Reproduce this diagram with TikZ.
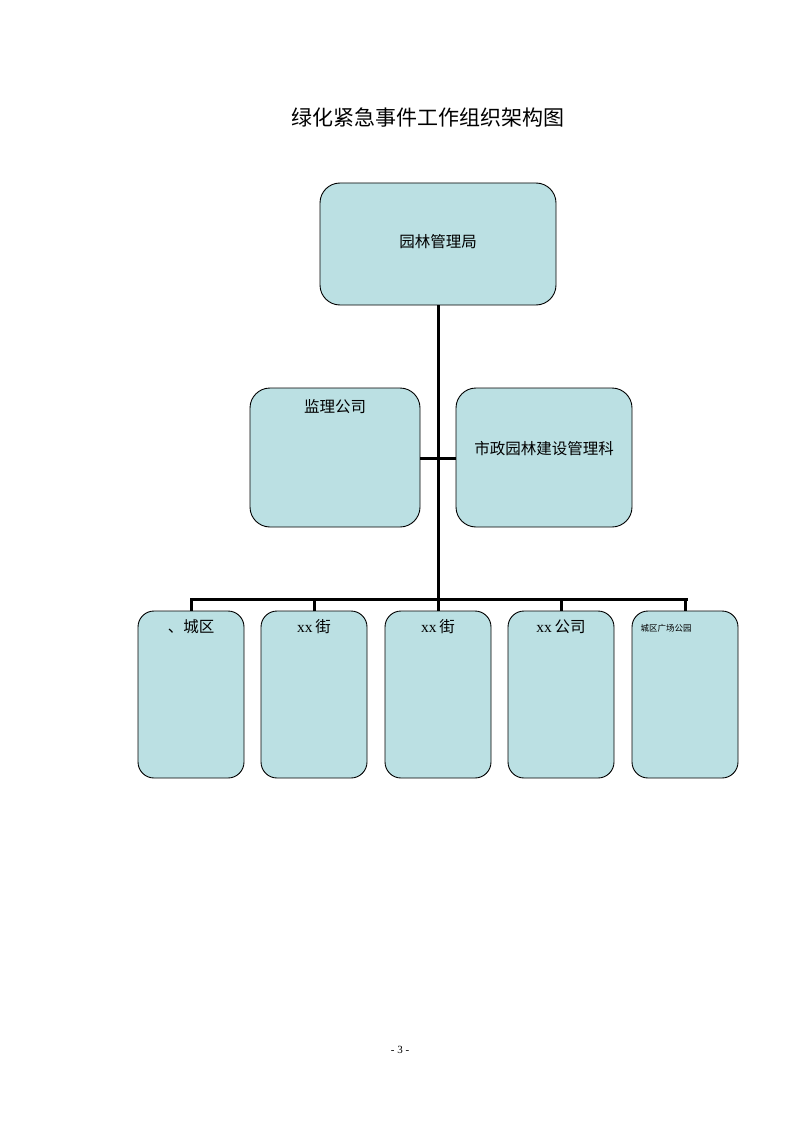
\documentclass[tikz,border=0pt]{standalone}
\usepackage{fontspec}
\setmainfont{Liberation Serif}
\newfontfamily\cjk{Noto Sans CJK SC}
\definecolor{boxfill}{HTML}{BBE0E3}
\tikzset{
  orgbox/.style={draw=black, line width=0.9pt, fill=boxfill, rounded corners=20pt, inner sep=0pt},
  smallbox/.style={orgbox, rounded corners=16pt, minimum width=106pt, minimum height=167pt},
  midbox/.style={orgbox, minimum width=172pt, minimum height=139pt},
  conn/.style={line width=3pt},
  boxtext/.style={font=\cjk\fontsize{15.5}{18}\selectfont, inner sep=0pt}
}
\begin{document}
\begin{tikzpicture}[x=1pt,y=-1pt]
\useasboundingbox (0,0) rectangle (794,1123);
% title
\node[font=\cjk\fontsize{21}{24}\selectfont] (title) at (428,118) {绿化紧急事件工作组织架构图};
% top box
\node[orgbox, minimum width=236pt, minimum height=122pt] (top) at (438,244) {};
\node[boxtext] (toptext) at (438,242) {园林管理局};
% middle boxes
\node[midbox, minimum width=170pt] (jl) at (335,457.5) {};
\node[boxtext] (jltext) at (335,407) {监理公司};
\node[midbox, minimum width=176pt] (sz) at (544,457.5) {};
\node[boxtext] (sztext) at (544,449) {市政园林建设管理科};
% bottom boxes
\node[smallbox] (b1) at (191,694.5) {};
\node[smallbox] (b2) at (314,694.5) {};
\node[smallbox] (b3) at (438,694.5) {};
\node[smallbox] (b4) at (561,694.5) {};
\node[smallbox] (b5) at (685,694.5) {};
\node[boxtext] (t1) at (191,627) {、城区};
\node[boxtext] (t2) at (314,627) {\fontspec{Liberation Serif}xx\,{\cjk 街}};
\node[boxtext] (t3) at (438,627) {\fontspec{Liberation Serif}xx\,{\cjk 街}};
\node[boxtext] (t4) at (561,627) {\fontspec{Liberation Serif}xx\,{\cjk 公司}};
\node[font=\cjk\fontsize{8.5}{10}\selectfont, anchor=west] (t5) at (637,628) {城区广场公园};
% connectors
\coordinate (bus) at (438,599);
\coordinate (busL) at (191,599);
\coordinate (busR) at (686,599);
\draw[conn] (top.south) -- (bus);
\draw[conn] (jl.east |- 0,458) -- (sz.west |- 0,458);
\draw[conn, line cap=rect] (busL) -- (busR);
\draw[conn] (busL) -- (b1.north);
\draw[conn] (314,599) -- (b2.north);
\draw[conn] (561,599) -- (b4.north);
\draw[conn] (685,599) -- (b5.north);
\draw[conn] (bus) -- (b3.north);
% page number
\node[font=\fontsize{11}{13}\selectfont] (page) at (400,1050) {- 3 -};
\end{tikzpicture}
\end{document}
